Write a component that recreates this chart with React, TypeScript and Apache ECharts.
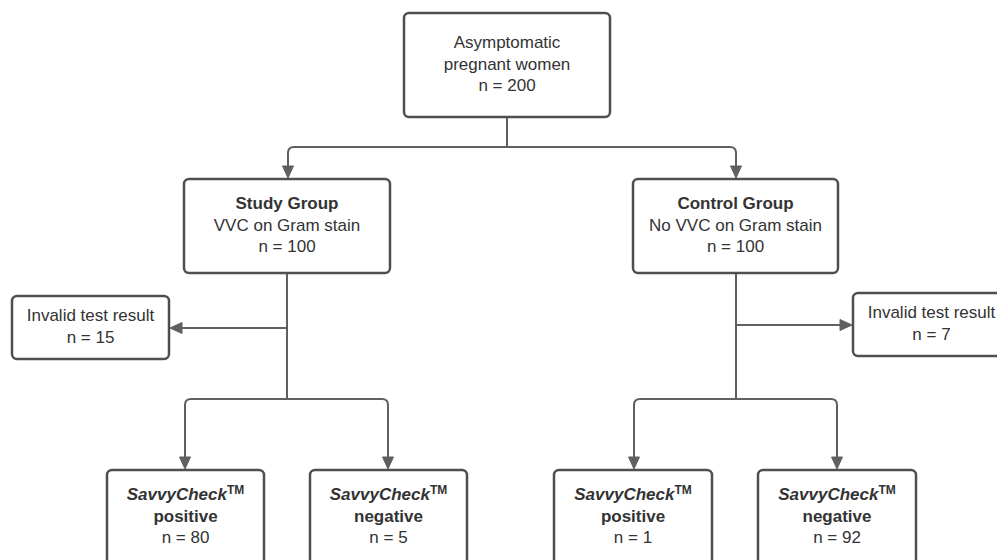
import React, { useEffect, useRef } from "react";
import * as echarts from "echarts";

// ---- content ----
const nodeTitles = ["", "Study Group", "Control Group", "", "", "SavvyCheck", "SavvyCheck", "SavvyCheck", "SavvyCheck"];
const nodeSubtitles = [
  "Asymptomatic\npregnant women",
  "VVC on Gram stain",
  "No VVC on Gram stain",
  "Invalid test result",
  "Invalid test result",
  "positive",
  "negative",
  "positive",
  "negative",
];
const nodeCounts = [200, 100, 100, 15, 7, 80, 5, 1, 92];
const nodeKinds = ["plain", "group", "group", "plain", "plain", "result", "result", "result", "result"];

// ---- layout (diagram space, 997 x 560) ----
const nodeBoxes = [
  [404, 13, 610, 117],
  [184, 179, 390, 273],
  [633, 179, 838, 273],
  [12, 296, 169, 359],
  [853, 293, 1010, 356],
  [107, 470, 264, 564],
  [310, 470, 467, 564],
  [554, 470, 712, 564],
  [758, 470, 916, 564],
];
const connectorPaths = [
  { pts: [[507, 117], [507, 147]], arrow: false },
  { pts: [[507, 147], [288, 147], [288, 178]], arrow: true },
  { pts: [[507, 147], [736, 147], [736, 178]], arrow: true },
  { pts: [[287, 273], [287, 399]], arrow: false },
  { pts: [[287, 328], [170, 328]], arrow: true },
  { pts: [[287, 399], [185, 399], [185, 469]], arrow: true },
  { pts: [[287, 399], [388, 399], [388, 469]], arrow: true },
  { pts: [[736, 273], [736, 399]], arrow: false },
  { pts: [[736, 325], [852, 325]], arrow: true },
  { pts: [[736, 399], [634, 399], [634, 469]], arrow: true },
  { pts: [[736, 399], [837, 399], [837, 469]], arrow: true },
];

const FONT = '"Liberation Sans", Arial, Helvetica, sans-serif';
const LINE_COLOR = "#606060";
const BOX_COLOR = "#4f4f4f";
const TEXT_COLOR = "#333333";
const FS = 17;
const LH = 21.5;

function nodeText(i: number): string {
  const kind = nodeKinds[i];
  const n = "n = " + nodeCounts[i];
  if (kind === "group") return `{b|${nodeTitles[i]}}\n${nodeSubtitles[i]}\n${n}`;
  if (kind === "result") return `{bi|${nodeTitles[i]}}{tm|TM}\n{b|${nodeSubtitles[i]}}\n${n}`;
  return `${nodeSubtitles[i]}\n${n}`;
}

function roundedPoints(pts: number[][], r: number): number[][] {
  if (pts.length < 3) return pts;
  const out: number[][] = [pts[0]];
  for (let k = 1; k < pts.length - 1; k++) {
    const p0 = pts[k - 1], p1 = pts[k], p2 = pts[k + 1];
    const d1 = [p1[0] - p0[0], p1[1] - p0[1]];
    const d2 = [p2[0] - p1[0], p2[1] - p1[1]];
    const l1 = Math.hypot(d1[0], d1[1]), l2 = Math.hypot(d2[0], d2[1]);
    const a = [p1[0] - (d1[0] / l1) * r, p1[1] - (d1[1] / l1) * r];
    const b = [p1[0] + (d2[0] / l2) * r, p1[1] + (d2[1] / l2) * r];
    for (let t = 0; t <= 1.0001; t += 0.25) {
      const x = (1 - t) * (1 - t) * a[0] + 2 * (1 - t) * t * p1[0] + t * t * b[0];
      const y = (1 - t) * (1 - t) * a[1] + 2 * (1 - t) * t * p1[1] + t * t * b[1];
      out.push([x, y]);
    }
  }
  out.push(pts[pts.length - 1]);
  return out;
}

export default function App() {
  const ref = useRef<HTMLDivElement>(null);
  useEffect(() => {
    if (!ref.current) return;
    const chart = echarts.init(ref.current, undefined, { renderer: "svg" });
    const option: any = {
      animation: false,
      backgroundColor: "#ffffff",
      grid: { left: 0, right: 0, top: 0, bottom: 0 },
      xAxis: { type: "value", min: 0, max: 997, show: false },
      yAxis: { type: "value", min: 0, max: 560, inverse: true, show: false },
      series: [
        {
          type: "custom",
          name: "connectors",
          clip: true,
          silent: true,
          data: connectorPaths.map((_, i) => [i]),
          renderItem: (params: any, api: any) => {
            const c = connectorPaths[params.dataIndex];
            const px = c.pts.map((p) => api.coord(p));
            const children: any[] = [];
            const linePts = px.map((p: number[]) => [p[0], p[1]]);
            const last = linePts[linePts.length - 1];
            const prev = linePts[linePts.length - 2];
            const dx = last[0] - prev[0], dy = last[1] - prev[1];
            const len = Math.hypot(dx, dy);
            const ux = dx / len, uy = dy / len;
            const headLen = 12, headHalf = 5.5;
            if (c.arrow) {
              linePts[linePts.length - 1] = [last[0] - ux * (headLen - 2), last[1] - uy * (headLen - 2)];
            }
            children.push({
              type: "polyline",
              shape: { points: roundedPoints(linePts, 6) },
              style: { stroke: LINE_COLOR, lineWidth: 2, fill: null },
            });
            if (c.arrow) {
              const bx = last[0] - ux * headLen, by = last[1] - uy * headLen;
              children.push({
                type: "polygon",
                shape: {
                  points: [
                    [last[0], last[1]],
                    [bx - uy * headHalf, by + ux * headHalf],
                    [bx + uy * headHalf, by - ux * headHalf],
                  ],
                },
                style: { fill: LINE_COLOR, stroke: LINE_COLOR, lineWidth: 1 },
              });
            }
            return { type: "group", children };
          },
        },
        {
          type: "custom",
          name: "nodes",
          clip: true,
          silent: true,
          data: nodeCounts.map((_, i) => [i]),
          renderItem: (params: any, api: any) => {
            const i = params.dataIndex;
            const b = nodeBoxes[i];
            const p0 = api.coord([b[0], b[1]]);
            const p1 = api.coord([b[2], b[3]]);
            const cx = (p0[0] + p1[0]) / 2;
            const cy = (p0[1] + p1[1]) / 2 - 1;
            return {
              type: "group",
              children: [
                {
                  type: "rect",
                  shape: { x: p0[0], y: p0[1], width: p1[0] - p0[0], height: p1[1] - p0[1], r: 5 },
                  style: { fill: "#ffffff", stroke: BOX_COLOR, lineWidth: 2.5 },
                },
                {
                  type: "text",
                  style: {
                    x: cx,
                    y: cy,
                    text: nodeText(i),
                    align: "center",
                    verticalAlign: "middle",
                    fontFamily: FONT,
                    fontSize: FS,
                    lineHeight: LH,
                    fill: TEXT_COLOR,
                    rich: {
                      b: { fontFamily: FONT, fontSize: FS, fontWeight: "bold", lineHeight: LH, fill: TEXT_COLOR },
                      bi: { fontFamily: FONT, fontSize: FS, fontWeight: "bold", fontStyle: "italic", lineHeight: LH, fill: TEXT_COLOR },
                      tm: { fontFamily: FONT, fontSize: 12, fontWeight: "bold", lineHeight: LH, verticalAlign: "top", padding: [0, 0, 3, 0], fill: TEXT_COLOR },
                    },
                  },
                },
              ],
            };
          },
        },
      ],
    };
    chart.setOption(option);
    return () => chart.dispose();
  }, []);
  return (
    <div
      ref={ref}
      style={{ position: "fixed", left: 0, top: 0, width: 997, height: 560, background: "#fff" }}
    />
  );
}
